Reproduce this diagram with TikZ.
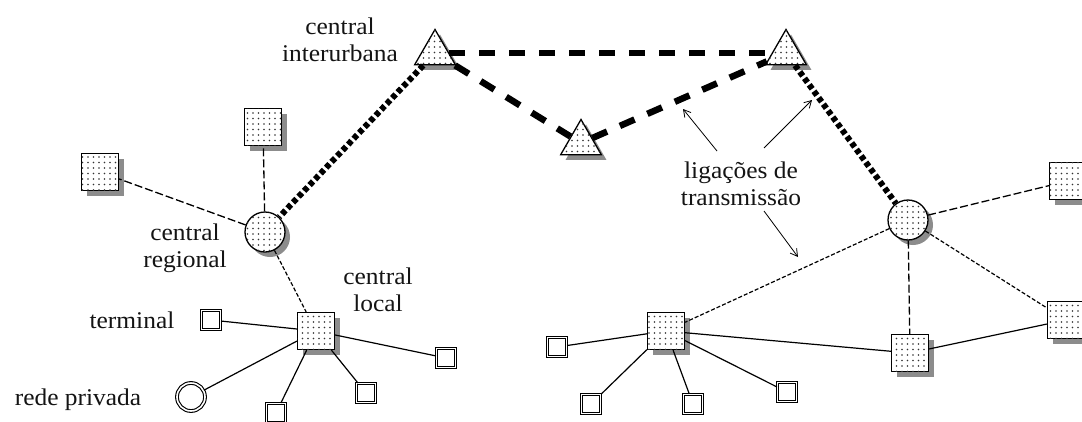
\documentclass[tikz,border=0pt]{standalone}
\usepackage{fontspec}
\setmainfont{Liberation Serif}[FakeStretch=1.06]
\usetikzlibrary{shapes.geometric,shadows,patterns.meta,arrows.meta}
\begin{document}
\begin{tikzpicture}[x=1pt,y=-1pt,
  lab/.style={font=\fontsize{24}{27}\selectfont, text=black!92, align=center, inner sep=0pt},
  shaded/.style={draw=black, line width=1.3pt, fill=white,
    postaction={pattern={Dots[distance=5.5pt,radius=0.85pt]}, pattern color=black!80},
    drop shadow={shadow xshift=5pt, shadow yshift=-5pt, fill=black!45, opacity=1}},
  bigsq/.style={shaded, rectangle, minimum size=37pt, inner sep=0pt},
  hub/.style={shaded, circle, minimum size=40pt, inner sep=0pt},
  tri/.style={shaded, regular polygon, regular polygon sides=3, minimum size=47pt, inner sep=0pt},
  term/.style={draw, double, double distance=1.6pt, line width=1.1pt, rectangle, minimum size=19pt, inner sep=0pt},
  priv/.style={draw, double, double distance=1.6pt, line width=1.1pt, circle, minimum size=28pt, inner sep=0pt},
  trunk/.style={line width=6.5pt, dash pattern=on 16pt off 14pt},
  trunkdot/.style={line width=6pt, dash pattern=on 5pt off 3pt},
  link/.style={line width=1.3pt, dash pattern=on 8pt off 3pt},
  linkfine/.style={line width=1.2pt, dash pattern=on 4pt off 2pt},
  wire/.style={line width=1.2pt},
  callout/.style={line width=0.8pt, -{Straight Barb[length=7pt,width=8pt]}}
]
\clip (0,0) rectangle (1082,421);
\fill[white] (0,0) rectangle (1082,421);

% interurban triangles
\node[tri] (tL) at (435,53) {};
\node[tri] (tR) at (786,53) {};
\node[tri] (tM) at (581,143) {};

% left cluster
\node[hub] (cL) at (265,232) {};
\node[bigsq] (sL1) at (100,172) {};
\node[bigsq] (sL2) at (263,127) {};
\node[bigsq] (loc) at (316,331) {};
\node[term] (te1) at (211,320) {};
\node[term] (te2) at (446,358) {};
\node[term] (te3) at (366,393) {};
\node[term] (te4) at (276,413) {};
\node[priv] (pv) at (191,397) {};

% right cluster
\node[hub] (cR) at (908,220) {};
\node[bigsq] (sR1) at (1068,181) {};
\node[bigsq] (sR2) at (1066,320) {};
\node[bigsq] (sR3) at (910,353) {};
\node[bigsq] (loc2) at (666,331) {};
\node[term] (tr1) at (557,347) {};
\node[term] (tr2) at (591,404) {};
\node[term] (tr3) at (693,404) {};
\node[term] (tr4) at (787,392) {};

% trunk links
\draw[trunk] (tL) -- (tR);
\draw[trunk] (tL) -- (tM);
\draw[trunk] (tM) -- (tR);
\draw[trunkdot] (tL) -- (cL);
\draw[trunkdot] (tR) -- (cR);

% regional links
\draw[link] (cL) -- (sL1);
\draw[link] (cL) -- (sL2);
\draw[linkfine] (cL) -- (loc);
\draw[link] (cR) -- (sR1);
\draw[linkfine] (cR) -- (sR2);
\draw[link] (cR) -- (sR3);
\draw[linkfine] (cR) -- (loc2);

% local wires
\draw[wire] (loc) -- (te1);
\draw[wire] (loc) -- (te2);
\draw[wire] (loc) -- (te3);
\draw[wire] (loc) -- (te4);
\draw[wire] (loc) -- (pv);
\draw[wire] (loc2) -- (tr1);
\draw[wire] (loc2) -- (tr2);
\draw[wire] (loc2) -- (tr3);
\draw[wire] (loc2) -- (tr4);
\draw[wire] (loc2) -- (sR3);
\draw[wire] (sR3) -- (sR2);

% labels
\node[lab] (lint) at (340,40) {central\\interurbana};
\node[lab] (lreg) at (185,248) {central\\regional};
\node[lab] (lloc) at (378,290) {central\\local};
\node[lab] (llig) at (741,184) {ligações de\\transmissão};
\node[lab, anchor=base] (lterm) at (132,328) {terminal};
\node[lab, anchor=base] (lrede) at (78,405) {rede privada};

% callout arrows
\coordinate (a1s) at (717,151);
\coordinate (a1e) at (683,109);
\coordinate (a2s) at (764,148);
\coordinate (a2e) at (812,100);
\coordinate (a3s) at (764,211);
\coordinate (a3e) at (798,257);
\draw[callout] (a1s) -- (a1e);
\draw[callout] (a2s) -- (a2e);
\draw[callout] (a3s) -- (a3e);
\end{tikzpicture}
\end{document}
